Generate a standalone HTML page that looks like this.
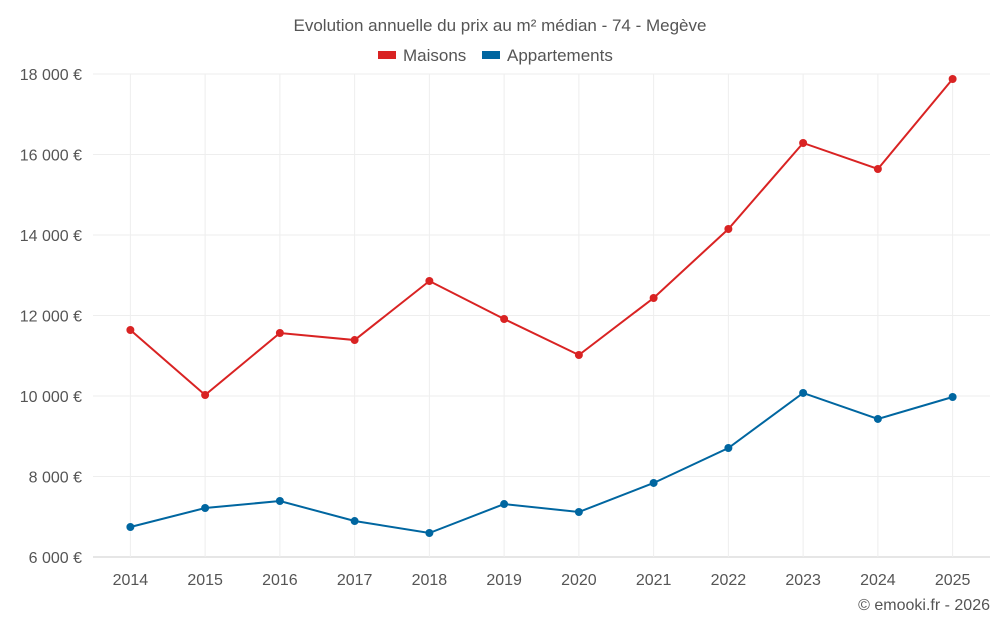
<!DOCTYPE html>
<html><head><meta charset="utf-8"><style>
body{margin:0;background:#fff;font-family:"Liberation Sans",sans-serif;}
svg text{font-family:"Liberation Sans",sans-serif;fill:#555;}
</style></head><body>
<svg id="c" width="1000" height="625">
<text x="500" y="31" text-anchor="middle" font-size="17">Evolution annuelle du prix au m² médian - 74 - Megève</text>
<g><rect x="378" y="51" width="18" height="8" fill="#d92323"/><text x="403" y="61" font-size="17">Maisons</text></g>
<g><rect x="482" y="51" width="18" height="8" fill="#0066a0"/><text x="507" y="61" font-size="17">Appartements</text></g>
<g id="grid"></g><g id="axes"></g><g id="series"></g>
<text x="990" y="610" text-anchor="end" font-size="16">© emooki.fr - 2026</text>
</svg>
<script>
const categories=["2014","2015","2016","2017","2018","2019","2020","2021","2022","2023","2024","2025"];
const maisons=[11640,10025,11565,11390,12857,11913,11019,12435,14149,16286,15640,17876];
const appartements=[6745,7217,7391,6894,6596,7316,7118,7839,8708,10075,9429,9975];
const yTicks=[6000,8000,10000,12000,14000,16000,18000];
const yTickLabels=["6 000 €","8 000 €","10 000 €","12 000 €","14 000 €","16 000 €","18 000 €"];
const NS="http://www.w3.org/2000/svg";
const X0=93,X1=990,Y0=557,Y1=74;
const step=(X1-X0)/categories.length;
function x(i){return X0+step*(i+0.5);}
function y(v){return Y0-(v-6000)/12000*(Y0-Y1);}
function mk(t,a,p){const e=document.createElementNS(NS,t);for(const k in a)e.setAttribute(k,a[k]);p.appendChild(e);return e;}
const g=document.getElementById('grid'),ax=document.getElementById('axes'),s=document.getElementById('series');
yTicks.forEach((v,i)=>{
 const l=mk('line',{x1:X0,x2:X1,y1:y(v),y2:y(v),stroke:i==0?'#ccc':'#eee'},g);
 
 
 const t=mk('text',{x:82,y:y(v)+6,'text-anchor':'end','font-size':16},ax);t.textContent=yTickLabels[i];
 
 
});
categories.forEach((c,i)=>{
 const l=mk('line',{x1:x(i),x2:x(i),y1:Y1,y2:Y0,stroke:'#eee'},g);
 
 
 const t=mk('text',{x:x(i),y:585,'text-anchor':'middle','font-size':16},ax);t.textContent=c;
 
 
});
[[maisons,'#d92323','maisons'],[appartements,'#0066a0','appartements']].forEach(([d,col,n])=>{
 const p=mk('polyline',{points:d.map((v,i)=>x(i)+','+y(v)).join(' '),fill:'none',stroke:col,'stroke-width':2},s);
 
 
 d.forEach((v,i)=>{const c=mk('circle',{cx:x(i),cy:y(v),r:4,fill:col},s);
 
 });
});
</script>
</body></html>
